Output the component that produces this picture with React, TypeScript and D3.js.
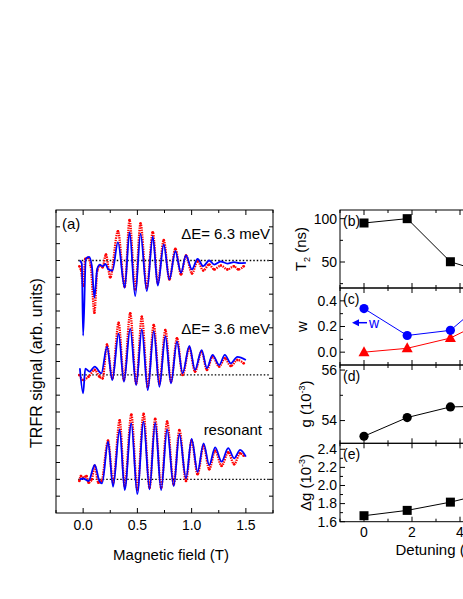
import * as d3 from 'd3';
import React from 'react';

// ---- panel (a): TRFR traces (field in T, signal in arb. units relative to baseline)
const baselines = [15, 8.2, 2];
const traceLabels = ['ΔE= 6.3 meV', 'ΔE= 3.6 meV', 'resonant'];

const fit63Field = [-0.03, -0.012, 0.0, 0.025, 0.055, 0.08, 0.104, 0.13, 0.155, 0.18, 0.205, 0.23, 0.27, 0.321, 0.383, 0.428, 0.48, 0.529, 0.587, 0.642, 0.688, 0.743, 0.795, 0.85, 0.902, 0.948, 1.003, 1.055, 1.107, 1.162, 1.208, 1.269, 1.33, 1.39, 1.44, 1.5];
const fit63 = [0, -0.2, -4.46, 0.1, 0.22, -0.3, -2.2, -0.5, -0.25, -0.35, -0.2, -0.5, -0.6, 1.09, -1.62, 1.68, -2.12, 1.58, -1.82, 1.41, -1.49, 0.95, -1.13, 0.55, -0.73, 0.3, -0.53, 0.1, -0.34, 0, -0.24, -0.06, -0.18, -0.1, -0.16, -0.14];
const data63Field = [-0.035, -0.02, 0.0, 0.02, 0.045, 0.07, 0.104, 0.13, 0.155, 0.18, 0.21, 0.25, 0.321, 0.383, 0.428, 0.48, 0.529, 0.587, 0.642, 0.688, 0.743, 0.795, 0.85, 0.902, 0.948, 1.003, 1.055, 1.107, 1.162, 1.208, 1.269, 1.33, 1.39, 1.43, 1.48];
const data63 = [-0.34, -0.53, -1.5, 0.1, 0.16, -0.3, -3.1, -0.6, -0.3, -0.4, 0.36, -1.0, 1.74, -1.56, 2.4, -1.72, 2.2, -1.62, 1.68, -1.33, 1.21, -1.13, 0.69, -0.83, 0.3, -0.77, -0.04, -0.59, -0.24, -0.53, -0.3, -0.53, -0.34, -0.53, -0.34];

const fit36Field = [-0.03, 0.0, 0.02, 0.06, 0.107, 0.168, 0.22, 0.269, 0.327, 0.376, 0.434, 0.489, 0.541, 0.596, 0.651, 0.703, 0.758, 0.81, 0.865, 0.917, 0.979, 1.031, 1.092, 1.141, 1.193, 1.254, 1.306, 1.361, 1.422, 1.5];
const fit36 = [0.4, -1.09, 0.38, 0.2, 0.5, 0.1, 1.68, -0.3, 2.45, -0.4, 2.75, -0.6, 2.7, -0.9, 2.6, -0.7, 2.3, -0.5, 1.98, 0.1, 1.72, 0.3, 1.48, 0.4, 1.19, 0.59, 1.19, 0.69, 1.08, 0.89];
const data36Field = [-0.035, 0.0, 0.05, 0.107, 0.15, 0.18, 0.22, 0.269, 0.327, 0.376, 0.434, 0.489, 0.541, 0.596, 0.651, 0.703, 0.758, 0.81, 0.865, 0.917, 0.979, 1.031, 1.092, 1.141, 1.193, 1.254, 1.306, 1.361, 1.422, 1.48];
const data36 = [0, -0.3, -0.1, 0.3, -0.1, -0.2, 1.8, -0.2, 3.1, -0.3, 3.66, -0.5, 3.46, -0.7, 2.97, -0.5, 2.67, -0.4, 2.18, 0.0, 1.6, 0.2, 1.39, 0.3, 1.09, 0.5, 0.99, 0.53, 0.89, 0.69];

const fitResField = [-0.03, 0.0, 0.05, 0.107, 0.15, 0.175, 0.23, 0.276, 0.337, 0.383, 0.444, 0.499, 0.557, 0.612, 0.664, 0.719, 0.774, 0.835, 0.887, 0.948, 1.0, 1.055, 1.11, 1.162, 1.217, 1.276, 1.337, 1.392, 1.447, 1.5];
const fitRes = [0, 0.05, -0.1, 0.85, -0.1, -0.24, 2.24, -0.44, 2.97, -0.64, 3.33, -0.87, 3.43, -0.6, 3.37, -0.64, 2.97, -0.4, 2.68, 0.06, 2.4, 0.45, 2.14, 0.85, 1.9, 1.05, 1.85, 1.25, 1.75, 1.35];
const dataResField = [-0.035, -0.02, 0.0, 0.03, 0.05, 0.08, 0.107, 0.14, 0.17, 0.23, 0.276, 0.337, 0.383, 0.444, 0.499, 0.557, 0.612, 0.664, 0.719, 0.774, 0.835, 0.887, 0.948, 1.0, 1.055, 1.11, 1.162, 1.217, 1.276, 1.337, 1.392, 1.447, 1.48];
const dataRes = [-0.1, 0.2, 0.1, 0.2, -0.2, 0.0, 0.8, -0.2, -0.1, 2.3, -0.2, 3.5, -0.4, 3.85, -0.6, 3.89, -0.5, 3.6, -0.5, 3.43, -0.3, 2.93, -0.1, 2.3, 0.3, 2.0, 0.6, 1.7, 0.8, 1.6, 0.9, 1.55, 1.4];

const fieldMajor = [0, 0.5, 1.0, 1.5];
const fieldMinor = [-0.25, 0.25, 0.75, 1.25, 1.75];
const signalTicks = d3.range(1, 18);

// ---- panels (b)-(e): versus detuning (meV)
const detuning = [0, 1.8, 3.6, 6.3];
const t2 = [95, 100, 50.3, 27];
const wBlue = [0.34, 0.13, 0.17, 0.6];
const wRed = [0.0, 0.03, 0.11, 0.36];
const gFactor = [53.38, 54.12, 54.54, 54.6];
const dg = [1.666, 1.725, 1.816, 1.99];

const detMajor = [0, 2, 4, 6, 8];
const detMinor = [-1, 1, 3, 5, 7];

const FONT = 'Liberation Sans, Arial, Helvetica, sans-serif';

const xL = d3.scaleLinear().domain([-0.25, 1.75]).range([56, 273]);
const yL = d3.scaleLinear().domain([0, 18]).range([513, 210]);
const xR = d3.scaleLinear().domain([-1, 8]).range([340, 556]);

const panels = [
  { key: 'b', y: d3.scaleLinear().domain([20, 110]).range([288, 210]), major: [50, 100], minor: [25, 75], fmt: (v) => String(v) },
  { key: 'c', y: d3.scaleLinear().domain([-0.1, 0.5]).range([365, 288]), major: [0, 0.2, 0.4], minor: [0.1, 0.3], fmt: d3.format('.1f') },
  { key: 'd', y: d3.scaleLinear().domain([53.1, 56.2]).range([443.3, 365]), major: [54, 56], minor: [55], fmt: (v) => String(v) },
  { key: 'e', y: d3.scaleLinear().domain([1.6, 2.466]).range([521.7, 443.3]), major: [1.6, 1.8, 2.0, 2.2, 2.4], minor: [1.7, 1.9, 2.1, 2.3], fmt: d3.format('.1f') },
];

const zipPts = (xs, ys) => xs.map((x, i) => [x, ys[i]]);

const Trace = ({ offset, fitX, fitY, dataX, dataY }) => {
  const line = d3
    .line()
    .x((d) => xL(d[0]))
    .y((d) => yL(offset + d[1]))
    .curve(d3.curveMonotoneX);
  const dataPts = zipPts(dataX, dataY);
  return (
    <g>
      <line x1={xL(-0.045)} x2={xL(1.72)} y1={yL(offset)} y2={yL(offset)} stroke="#000" strokeWidth={1.3} strokeDasharray="1.5 2" />
      <path d={line(dataPts)} fill="none" stroke="#ff0000" strokeWidth={2.3} strokeDasharray="1.4 1" />
      {dataPts.map((d, i) => (
        <circle key={i} cx={xL(d[0])} cy={yL(offset + d[1])} r={1.3} fill="#ff0000" />
      ))}
      <path d={line(zipPts(fitX, fitY))} fill="none" stroke="#0000ff" strokeWidth={1.8} />
    </g>
  );
};

export default function App() {
  const [b, c, d, e] = panels;
  const lineR = (ys, sy) =>
    d3
      .line()
      .x((_, i) => xR(detuning[i]))
      .y((v) => sy(v))(ys);

  return (
    <svg width={463} height={599} style={{ position: 'absolute', left: 0, top: 0, background: '#fff' }} fontFamily={FONT}>
      {/* ---------- panel (a) ---------- */}
      <Trace offset={baselines[0]} fitX={fit63Field} fitY={fit63} dataX={data63Field} dataY={data63} />
      <Trace offset={baselines[1]} fitX={fit36Field} fitY={fit36} dataX={data36Field} dataY={data36} />
      <Trace offset={baselines[2]} fitX={fitResField} fitY={fitRes} dataX={dataResField} dataY={dataRes} />
      <rect x={56} y={210} width={217} height={303} fill="none" stroke="#000" strokeWidth={1} />
      {fieldMajor.concat(fieldMinor).map((t) => {
        const len = fieldMajor.includes(t) ? 5 : 3;
        return (
          <g key={'fx' + t}>
            <line x1={xL(t)} x2={xL(t)} y1={513} y2={513 - len} stroke="#000" />
            <line x1={xL(t)} x2={xL(t)} y1={210} y2={210 + len} stroke="#000" />
          </g>
        );
      })}
      {signalTicks.map((t) => (
        <g key={'sy' + t}>
          <line x1={56} x2={60} y1={yL(t)} y2={yL(t)} stroke="#000" />
          <line x1={273} x2={269} y1={yL(t)} y2={yL(t)} stroke="#000" />
        </g>
      ))}
      {fieldMajor.map((t) => (
        <text key={'fl' + t} x={xL(t)} y={529.5} fontSize={14} textAnchor="middle">
          {d3.format('.1f')(t)}
        </text>
      ))}
      <text x={171} y={560} fontSize={15} textAnchor="middle">Magnetic field (T)</text>
      <text transform="translate(42,363) rotate(-90)" fontSize={16} textAnchor="middle">TRFR signal (arb. units)</text>
      <text x={62} y={229} fontSize={15}>(a)</text>
      <text x={270} y={239} fontSize={15} textAnchor="end">{traceLabels[0]}</text>
      <text x={270} y={333.5} fontSize={15} textAnchor="end">{traceLabels[1]}</text>
      <text x={262} y={435} fontSize={15} textAnchor="end">{traceLabels[2]}</text>

      {/* ---------- panels (b)-(e) ---------- */}
      {panels.map((p) => {
        const [y0, y1] = p.y.range();
        return (
          <g key={p.key}>
            <rect x={340} y={y1} width={216} height={y0 - y1} fill="none" stroke="#000" strokeWidth={1} />
            {detMajor.concat(detMinor).map((t) => {
              const len = detMajor.includes(t) ? 5 : 3;
              return (
                <g key={'dx' + t}>
                  <line x1={xR(t)} x2={xR(t)} y1={y0} y2={y0 - len} stroke="#000" />
                  <line x1={xR(t)} x2={xR(t)} y1={y1} y2={y1 + len} stroke="#000" />
                </g>
              );
            })}
            {p.major.map((t) => (
              <g key={'my' + t}>
                <line x1={340} x2={345} y1={p.y(t)} y2={p.y(t)} stroke="#000" />
                <text x={337} y={p.y(t)} dy="0.35em" fontSize={14} textAnchor="end">{p.fmt(t)}</text>
              </g>
            ))}
            {p.minor.map((t) => (
              <line key={'mi' + t} x1={340} x2={343} y1={p.y(t)} y2={p.y(t)} stroke="#000" />
            ))}
            <text x={343} y={y1 + 16} fontSize={14}>({p.key})</text>
          </g>
        );
      })}

      {/* (b) T2 */}
      <path d={lineR(t2, b.y)} fill="none" stroke="#000" strokeWidth={1} />
      {t2.map((v, i) => (
        <rect key={'t2' + i} x={xR(detuning[i]) - 4.5} y={b.y(v) - 4.5} width={9} height={9} fill="#000" />
      ))}
      <text transform="translate(306,249) rotate(-90)" fontSize={15} textAnchor="middle">
        T<tspan fontSize={9} dy={4}>2</tspan><tspan dy={-4}> (ns)</tspan>
      </text>

      {/* (c) w */}
      <path d={lineR(wRed, c.y)} fill="none" stroke="#ff0000" strokeWidth={1} />
      <path d={lineR(wBlue, c.y)} fill="none" stroke="#0000ff" strokeWidth={1} />
      {wRed.map((v, i) => {
        const cx = xR(detuning[i]);
        const cy = c.y(v);
        return <path key={'wr' + i} d={`M${cx},${cy - 6}L${cx + 5.5},${cy + 4}L${cx - 5.5},${cy + 4}Z`} fill="#ff0000" />;
      })}
      {wBlue.map((v, i) => (
        <circle key={'wb' + i} cx={xR(detuning[i])} cy={c.y(v)} r={4.6} fill="#0000ff" />
      ))}
      <line x1={367} x2={357} y1={322.7} y2={322.7} stroke="#0000ff" strokeWidth={1.5} />
      <path d="M352,322.7L359,319.2L359,326.2Z" fill="#0000ff" />
      <text x={369} y={327.5} fontSize={14} fill="#0000ff">w</text>
      <text transform="translate(307,326.5) rotate(-90)" fontSize={15} textAnchor="middle">w</text>

      {/* (d) g */}
      <path d={lineR(gFactor, d.y)} fill="none" stroke="#000" strokeWidth={1} />
      {gFactor.map((v, i) => (
        <circle key={'g' + i} cx={xR(detuning[i])} cy={d.y(v)} r={4.6} fill="#000" />
      ))}
      <text transform="translate(311,404) rotate(-90)" fontSize={15} textAnchor="middle">
        g (10<tspan fontSize={9} dy={-6}>-3</tspan><tspan dy={6}>)</tspan>
      </text>

      {/* (e) delta g */}
      <path d={lineR(dg, e.y)} fill="none" stroke="#000" strokeWidth={1} />
      {dg.map((v, i) => (
        <rect key={'dg' + i} x={xR(detuning[i]) - 4.5} y={e.y(v) - 4.5} width={9} height={9} fill="#000" />
      ))}
      <text transform="translate(311,482.5) rotate(-90)" fontSize={15} textAnchor="middle">
        Δg (10<tspan fontSize={9} dy={-6}>-3</tspan><tspan dy={6}>)</tspan>
      </text>

      {detMajor.map((t) => (
        <text key={'dl' + t} x={xR(t)} y={537} fontSize={14} textAnchor="middle">{t}</text>
      ))}
      <text x={448} y={555} fontSize={15} textAnchor="middle">Detuning (meV)</text>
    </svg>
  );
}
